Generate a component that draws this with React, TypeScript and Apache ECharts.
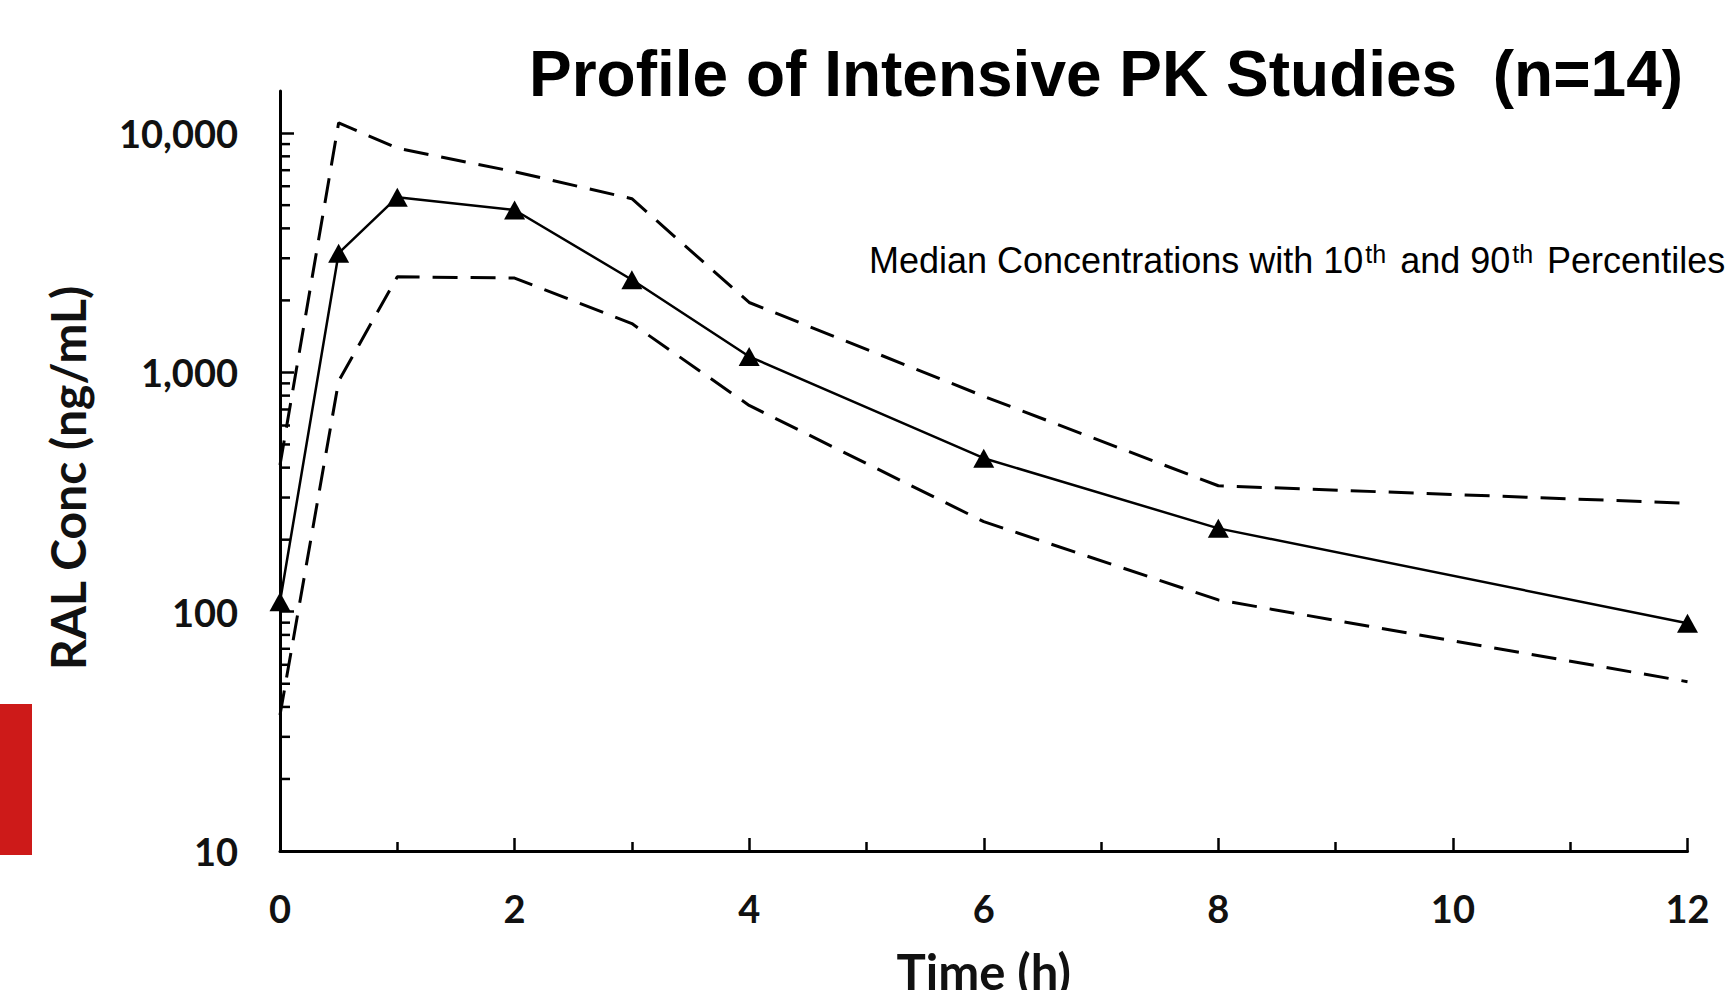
import React, { useEffect, useRef } from "react";
import * as echarts from "echarts";

// Time points (h)
const times = [0, 0.5, 1, 2, 3, 4, 6, 8, 12];
// Median concentration (ng/mL)
const median = [110, 3150, 5400, 4775, 2440, 1165, 438, 223, 89.5];
// 90th percentile
const p90 = [410, 11050, 8650, 6900, 5320, 1960, 795, 336, 284];
// 10th percentile
const p10 = [37, 920, 2510, 2480, 1600, 728, 238, 112, 51];

// Minor log ticks of the y axis
const yMinorTicks = [
  20, 30, 40, 50, 60, 70, 80, 90,
  200, 300, 400, 500, 600, 700, 800, 900,
  2000, 3000, 4000, 5000, 6000, 7000, 8000, 9000,
];

const titleText = "Profile of Intensive PK Studies  (n=14)";
const yName = "RAL Conc (ng/mL)";
const xName = "Time (h)";

const AXIS_FONT = "Lato, 'Open Sans', sans-serif";
const ARIAL = "'Liberation Sans', Arial, sans-serif";

export default function App() {
  const ref = useRef<HTMLDivElement>(null);

  useEffect(() => {
    if (!ref.current) return;
    const chart = echarts.init(ref.current, undefined, { renderer: "svg" });

    const pair = (arr: number[]) => times.map((t, i) => [t, arr[i]]);

    const option: any = {
      animation: false,
      backgroundColor: "#ffffff",
      title: [
        {
          text: titleText,
          left: 529,
          top: 42,
          padding: 0,
          textStyle: {
            fontFamily: ARIAL,
            fontWeight: "bold",
            fontSize: 64,
            lineHeight: 64,
            color: "#000",
          },
        },
        {
          text:
            "{n|Median Concentrations with 10}{s|th}{n| and 90}{s|th}{n| Percentiles}",
          left: 869,
          top: 241,
          padding: 0,
          textStyle: {
            fontWeight: "normal",
            fontFamily: ARIAL,
            rich: {
              n: {
                fontFamily: ARIAL,
                fontWeight: "normal",
                fontSize: 36,
                lineHeight: 38,
                color: "#000",
              },
              s: {
                fontFamily: ARIAL,
                fontWeight: "normal",
                fontSize: 25,
                lineHeight: 27,
                verticalAlign: "top",
                padding: [0, 4, 0, 2],
                color: "#000",
              },
            },
          },
        },
      ],
      graphic: [
        {
          type: "rect",
          shape: { x: 0, y: 704, width: 32, height: 151 },
          style: { fill: "#CD1A19" },
        },
      ],
      grid: {
        left: 280,
        right: 47.5,
        top: 91,
        bottom: 139,
        containLabel: false,
        outerBoundsMode: "none",
      },
      xAxis: {
        type: "value",
        min: 0,
        max: 12,
        interval: 2,
        name: xName,
        nameLocation: "middle",
        nameGap: 95,
        nameTextStyle: {
          fontFamily: AXIS_FONT,
          fontWeight: "bold",
          fontSize: 49,
          lineHeight: 49,
          color: "#111",
        },
        axisLine: { show: true, lineStyle: { color: "#000", width: 3 } },
        axisTick: {
          show: true,
          inside: true,
          length: 13,
          lineStyle: { color: "#000", width: 2.5 },
        },
        minorTick: {
          show: true,
          splitNumber: 2,
          length: 9,
          lineStyle: { color: "#000", width: 2.5 },
        },
        splitLine: { show: false },
        axisLabel: {
          margin: 38,
          fontFamily: AXIS_FONT,
          fontWeight: "bold",
          fontSize: 38,
          lineHeight: 38,
          color: "#111",
        },
      },
      yAxis: {
        type: "log",
        logBase: 10,
        min: 10,
        max: 15000,
        name: yName,
        nameLocation: "middle",
        nameGap: 189,
        nameTextStyle: {
          fontFamily: AXIS_FONT,
          fontWeight: "bold",
          fontSize: 48,
          lineHeight: 48,
          color: "#111",
          padding: [0, 14, 0, 0],
        },
        axisLine: { show: true, lineStyle: { color: "#000", width: 3 } },
        axisTick: {
          show: true,
          inside: true,
          length: 14,
          lineStyle: { color: "#000", width: 2.5 },
        },
        splitLine: { show: false },
        axisLabel: {
          margin: 42,
          fontFamily: AXIS_FONT,
          fontWeight: "bold",
          fontSize: 38,
          lineHeight: 38,
          color: "#111",
          showMaxLabel: false,
          formatter: (v: number) => {
            const l = Math.log10(v);
            if (Math.abs(l - Math.round(l)) > 1e-6) return "";
            return Math.round(v).toLocaleString("en-US");
          },
        },
      },
      series: [
        {
          name: "90th percentile",
          type: "line",
          data: pair(p90),
          clip: false,
          symbol: "none",
          lineStyle: { color: "#000", width: 3, type: [25, 13] },
          z: 3,
        },
        {
          name: "10th percentile",
          type: "line",
          data: pair(p10),
          clip: false,
          symbol: "none",
          lineStyle: { color: "#000", width: 3, type: [25, 13] },
          z: 3,
        },
        {
          name: "Median",
          type: "line",
          data: pair(median),
          clip: false,
          symbol: "triangle",
          symbolSize: [21, 19],
          itemStyle: { color: "#000" },
          lineStyle: { color: "#000", width: 2.5 },
          z: 4,
        },
        {
          name: "yMinorTicks",
          type: "custom",
          silent: true,
          clip: false,
          z: 5,
          data: yMinorTicks.map((v) => [0, v]),
          renderItem: (_params: any, api: any) => {
            const p = api.coord([api.value(0), api.value(1)]);
            return {
              type: "line",
              shape: { x1: p[0], y1: p[1], x2: p[0] + 10, y2: p[1] },
              style: { stroke: "#000", lineWidth: 2.5 },
            };
          },
        },
      ],
    };

    chart.setOption(option);
    return () => chart.dispose();
  }, []);

  return (
    <div
      ref={ref}
      style={{
        position: "fixed",
        left: 0,
        top: 0,
        width: 1735,
        height: 990,
        background: "#fff",
      }}
    />
  );
}
